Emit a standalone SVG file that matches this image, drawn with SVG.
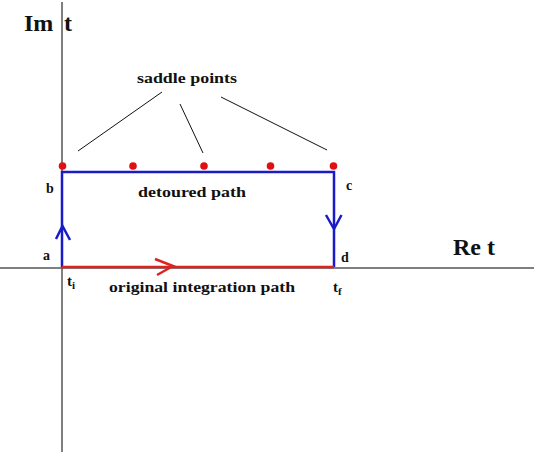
<svg xmlns="http://www.w3.org/2000/svg" width="534" height="458" viewBox="0 0 534 458">
<style>
text{font-family:"Liberation Serif","Times New Roman",serif;font-weight:bold;fill:#111}
.lbl{font-size:14px}
.axis{stroke:#555;stroke-width:1.5;fill:none}
.blue{stroke:#1a1ac8;stroke-width:2.5;fill:none}
.red{stroke:#dd2222;stroke-width:2.5;fill:none}
.pt{fill:#e01010}
.lead{stroke:#111;stroke-width:1;fill:none}
</style>
<rect width="534" height="458" fill="#fff"/>
<g id="axes">
<line class="axis" x1="62" y1="2" x2="62" y2="452"/>
<line class="axis" x1="0" y1="268" x2="534" y2="268"/>
<text x="24" y="31" style="font-size:24px">Im</text>
<text x="64" y="31" style="font-size:24px">t</text>
<text x="453" y="255" style="font-size:24px">Re t</text>
</g>
<g id="connectors">
<polyline class="blue" points="62,267 62,172 334,172 334,267"/>
<line class="red" x1="62" y1="267" x2="334" y2="267"/>
<polyline class="red" points="155,259 173,266 157,275"/>
<polyline class="blue" points="56,239 62.5,226 70,240"/>
<polyline class="blue" points="326,215 334,229 341.5,215"/>
<line class="lead" x1="78" y1="151" x2="162" y2="92"/>
<line class="lead" x1="180" y1="104" x2="203" y2="153"/>
<line class="lead" x1="221" y1="97" x2="327" y2="150"/>
</g>
<g id="saddle-points">
<circle class="pt" cx="62.5" cy="166" r="3.8"/>
<circle class="pt" cx="133" cy="166" r="3.8"/>
<circle class="pt" cx="204" cy="166" r="3.8"/>
<circle class="pt" cx="270.5" cy="166" r="3.8"/>
<circle class="pt" cx="333.5" cy="166" r="3.8"/>
<text x="137" y="83" style="font-size:15px" textLength="100" lengthAdjust="spacingAndGlyphs">saddle points</text>
</g>
<g id="node-a"><text class="lbl" x="43" y="260">a</text></g>
<g id="node-b"><text class="lbl" x="46" y="193">b</text></g>
<g id="node-c"><text class="lbl" x="346" y="190">c</text></g>
<g id="node-d"><text class="lbl" x="341" y="262">d</text></g>
<g id="labels">
<text x="138" y="197" style="font-size:14px" textLength="108" lengthAdjust="spacingAndGlyphs">detoured path</text>
<text x="109" y="292" style="font-size:14px" textLength="186" lengthAdjust="spacingAndGlyphs">original integration path</text>
<text x="67" y="286" style="font-size:15px">t<tspan dy="3" style="font-size:11px">i</tspan></text>
<text x="333" y="292" style="font-size:15px">t<tspan dy="3" style="font-size:11px">f</tspan></text>
</g>
</svg>
